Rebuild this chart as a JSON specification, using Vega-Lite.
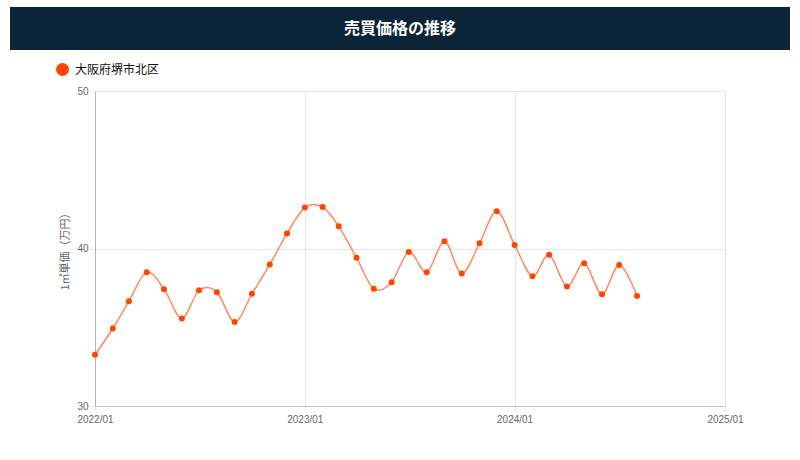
{
  "$schema": "https://vega.github.io/schema/vega-lite/v6.json",
  "background": "white",
  "padding": {"left": 10, "top": 7, "right": 10, "bottom": 8},
  "config": {"font": "Liberation Sans", "view": {"stroke": null}},
  "bounds": "flush",
  "center": false,
  "spacing": 41,
  "resolve": {"legend": {"color": "independent"}},
  "vconcat": [
    {
      "width": 780,
      "height": 43,
      "view": {"fill": "#0b2437", "stroke": null},
      "data": {"values": [{"title": "売買価格の推移"}]},
      "mark": {
        "type": "text",
        "color": "white",
        "font": "Noto Sans CJK JP",
        "fontSize": 16,
        "fontWeight": "bold",
        "align": "center",
        "baseline": "middle"
      },
      "encoding": {"text": {"field": "title"}}
    },
    {
      "bounds": "flush",
      "align": "none",
      "spacing": 0,
      "resolve": {"legend": {"color": "independent"}},
      "hconcat": [
        {
          "width": 85,
          "height": 315,
          "data": {"values": []},
          "mark": "point"
        },
        {
          "width": 630,
          "height": 315,
          "data": {
            "values": [
              {"date": "2022/01/01", "price": 33.25},
              {"date": "2022/02/01", "price": 34.92},
              {"date": "2022/03/01", "price": 36.65},
              {"date": "2022/04/01", "price": 38.5},
              {"date": "2022/05/01", "price": 37.42},
              {"date": "2022/06/01", "price": 35.56},
              {"date": "2022/07/01", "price": 37.35},
              {"date": "2022/08/01", "price": 37.23},
              {"date": "2022/09/01", "price": 35.34},
              {"date": "2022/10/01", "price": 37.12},
              {"date": "2022/11/01", "price": 38.98},
              {"date": "2022/12/01", "price": 40.95},
              {"date": "2023/01/01", "price": 42.6},
              {"date": "2023/02/01", "price": 42.63},
              {"date": "2023/03/01", "price": 41.41},
              {"date": "2023/04/01", "price": 39.41},
              {"date": "2023/05/01", "price": 37.44},
              {"date": "2023/06/01", "price": 37.86},
              {"date": "2023/07/01", "price": 39.77},
              {"date": "2023/08/01", "price": 38.5},
              {"date": "2023/09/01", "price": 40.46},
              {"date": "2023/10/01", "price": 38.41},
              {"date": "2023/11/01", "price": 40.34},
              {"date": "2023/12/01", "price": 42.37},
              {"date": "2024/01/01", "price": 40.23},
              {"date": "2024/02/01", "price": 38.24},
              {"date": "2024/03/01", "price": 39.6},
              {"date": "2024/04/01", "price": 37.59},
              {"date": "2024/05/01", "price": 39.07},
              {"date": "2024/06/01", "price": 37.1},
              {"date": "2024/07/01", "price": 38.96},
              {"date": "2024/08/01", "price": 36.99}
            ]
          },
          "encoding": {
            "x": {
              "field": "date",
              "type": "temporal",
              "scale": {
                "domain": [
                  {"year": 2022, "month": 1, "date": 1},
                  {"year": 2025, "month": 1, "date": 1}
                ]
              },
              "axis": {
                "title": null,
                "format": "%Y/%m",
                "tickCount": {"interval": "year", "step": 1},
                "labelFlush": false,
                "labelColor": "#666",
                "labelFontSize": 10,
                "labelPadding": 3,
                "gridColor": "#e6e6e6",
                "domainColor": "#c8c8c8",
                "tickColor": "#e6e6e6",
                "tickSize": 5
              }
            },
            "y": {
              "field": "price",
              "type": "quantitative",
              "scale": {"domain": [30, 50]},
              "axis": {
                "values": [30, 40, 50],
                "title": "1㎡単価（万円）",
                "titleFont": "Noto Sans CJK JP",
                "titleFontSize": 11,
                "titleFontWeight": "normal",
                "titleColor": "#666",
                "titlePadding": 6,
                "labelColor": "#666",
                "labelFontSize": 10,
                "labelPadding": 2,
                "gridColor": "#e6e6e6",
                "domainColor": "#b4b4b4",
                "tickColor": "#e6e6e6",
                "tickSize": 5
              }
            }
          },
          "layer": [
            {
              "mark": {
                "type": "line",
                "interpolate": "cardinal",
                "color": "#ff8a5c",
                "strokeWidth": 1.5
              }
            },
            {
              "mark": {"type": "point", "filled": true, "size": 36, "opacity": 1},
              "encoding": {
                "color": {
                  "datum": "大阪府堺市北区",
                  "type": "nominal",
                  "scale": {"range": ["#ff4500"]},
                  "legend": {
                    "title": null,
                    "orient": "none",
                    "legendX": -39,
                    "legendY": -28,
                    "symbolType": "circle",
                    "symbolSize": 169,
                    "symbolStrokeWidth": 0,
                    "labelOffset": 6,
                    "labelFont": "Noto Sans CJK JP",
                    "labelFontSize": 12,
                    "labelColor": "#111"
                  }
                }
              }
            }
          ]
        }
      ]
    }
  ]
}
